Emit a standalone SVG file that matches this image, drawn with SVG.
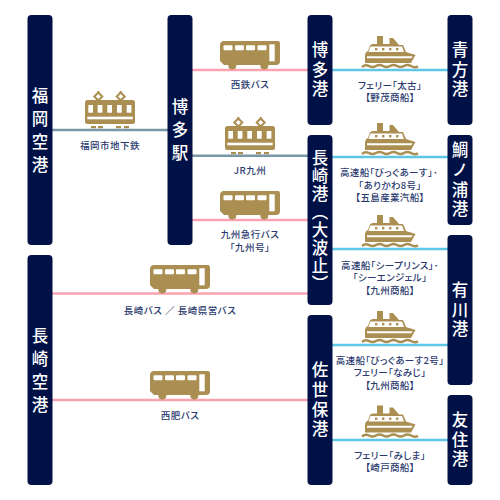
<svg xmlns="http://www.w3.org/2000/svg" width="500" height="500" viewBox="0 0 500 500">
<style>
text{font-family:"Noto Sans CJK JP","Noto Sans",sans-serif}
.n{fill:#001147}
.nt{fill:#fff;font-size:16.5px;font-weight:500;writing-mode:vertical-rl;text-orientation:upright;text-anchor:middle}
.s1{letter-spacing:6.500px}.s2{letter-spacing:3.200px}.s3{letter-spacing:1.500px}
.l{fill:#2a3a6e;font-size:9.500px;font-weight:500;text-anchor:middle;font-feature-settings:"palt";letter-spacing:.35px}
.w{letter-spacing:.5px}
.pink{stroke:#f9a3b1;stroke-width:2.500}.blue{stroke:#5fc6e8;stroke-width:2.500}.slate{stroke:#7898a8;stroke-width:2.500}
.g{fill:#ab8f52}.wh{fill:#fff}
</style>
<defs>
<g id="bus">
<path class="g" d="M3,0H58Q60,0 60,3V20Q60,24 56,24H4L0,20V4Q0,1 3,0Z"/>
<circle class="g" cx="12.3" cy="24.5" r="4"/><circle class="g" cx="44.3" cy="24.5" r="4"/>
<g class="wh"><rect x="3.500" y="4.300" width="9" height="5" rx="1"/><rect x="15" y="4.300" width="9" height="5" rx="1"/><rect x="26" y="4.300" width="9" height="5" rx="1"/><rect x="37.500" y="4.300" width="9" height="5" rx="1"/><rect x="49.300" y="3.300" width="5.400" height="17"/></g>
</g>
<g id="train">
<rect class="g" x="0" y="9" width="50" height="24" rx="2.500"/>
<g fill="none" stroke="#ab8f52" stroke-width="2"><path d="M13.3,1.5L17.3,5.5L13.3,9.5L9.3,5.5Z"/><path d="M35.7,1.5L39.7,5.5L35.7,9.5L31.7,5.5Z"/></g>
<path class="g" d="M12.3,0h2v2h-2zM34.7,0h2v2h-2z"/>
<g class="wh"><rect x="3.300" y="14" width="4.700" height="7.700"/><rect x="12.700" y="14" width="4.700" height="7.700"/><rect x="22.300" y="14" width="4.700" height="7.700"/><rect x="32" y="14" width="4.700" height="7.700"/><rect x="41.700" y="14" width="4.700" height="7.700"/><rect x="2.300" y="25.700" width="45.400" height="2.600"/></g>
<path class="g" d="M6,35h5v2.300H6zM13,35h5v2.300H13zM31,35h5v2.300H31zM39,35h5v2.300H39z"/>
</g>
<g id="ship">
<path class="g" d="M15,0H21V8H27.5V2H31L37,9H41L44,16L53.500,19L49,27H3V20Q3,16 6,15L8,9.5Q9,8 11,8H15Z"/>
<path class="wh" d="M8.5,10.5H40L42,16H6.5Z"/>
<g class="g"><rect x="13" y="12" width="2.400" height="2.400"/><rect x="20" y="12" width="2.400" height="2.400"/><rect x="27" y="12" width="2.400" height="2.400"/><rect x="34" y="12" width="2.400" height="2.400"/></g>
<path class="wh" d="M5,20.3H50.500L49.500,22.3H5Z"/>
<path fill="none" stroke="#ab8f52" stroke-width="2.500" d="M0,31Q3.5,28 7,30Q10.5,32 14,30Q17.5,28 21,30Q24.5,32 28,30Q31.5,28 35,30Q38.5,32 42,30Q45.5,28 49,30Q52.5,32 56,30.5"/>
</g>
</defs>
<g id="connectors" fill="none">
<path class="slate" d="M52,130H168"/>
<path class="pink" d="M192,70H308"/>
<path class="slate" d="M192,155.700H308"/>
<path class="pink" d="M192,220H308"/>
<path class="pink" d="M52,293.500H308"/>
<path class="pink" d="M52,400H308"/>
<path class="blue" d="M332,70H448"/>
<path class="blue" d="M332,157H448"/>
<path class="blue" d="M332,249H448"/>
<path class="blue" d="M332,345H448"/>
<path class="blue" d="M332,440H448"/>
</g>
<g id="icons">
<use href="#train" x="85" y="91"/><use href="#train" x="225" y="117"/>
<use href="#bus" x="220" y="41"/><use href="#bus" x="220" y="191"/><use href="#bus" x="150" y="265"/><use href="#bus" x="150" y="371"/>
<use href="#ship" x="362" y="36"/><use href="#ship" x="362" y="123"/><use href="#ship" x="362" y="215"/><use href="#ship" x="362" y="311"/><use href="#ship" x="362" y="405.500"/>
</g>
<g id="fukuoka-airport"><rect class="n" x="27.500" y="15" width="25" height="230" rx="4"/><text class="nt s1" x="40" y="133">福岡空港</text></g>
<g id="hakata-station"><rect class="n" x="167.500" y="15" width="25" height="230" rx="4"/><text class="nt s1" x="180" y="133">博多駅</text></g>
<g id="hakata-port"><rect class="n" x="307.500" y="15" width="25" height="110" rx="4"/><text class="nt s2" x="320" y="71">博多港</text></g>
<g id="aokata-port"><rect class="n" x="447.500" y="15" width="25" height="110" rx="4"/><text class="nt s2" x="460" y="71">青方港</text></g>
<g id="nagasaki-port"><rect class="n" x="307.500" y="135" width="25" height="170" rx="4"/><text class="nt s3" x="320" y="221">長崎港（大波止）</text></g>
<g id="tainoura-port"><rect class="n" x="447.500" y="135" width="25" height="90" rx="4"/><text class="nt s2" x="460" y="181">鯛ノ浦港</text></g>
<g id="arikawa-port"><rect class="n" x="447.500" y="235" width="25" height="150" rx="4"/><text class="nt s2" x="460" y="311">有川港</text></g>
<g id="tomozumi-port"><rect class="n" x="447.500" y="395" width="25" height="90" rx="4"/><text class="nt s2" x="460" y="441">友住港</text></g>
<g id="sasebo-port"><rect class="n" x="307.500" y="315" width="25" height="170" rx="4"/><text class="nt s2" x="320" y="401">佐世保港</text></g>
<g id="nagasaki-airport"><rect class="n" x="27.500" y="255" width="25" height="230" rx="4"/><text class="nt s1" x="40" y="373">長崎空港</text></g>
<g id="labels">
<text class="l w" x="110" y="148.500">福岡市地下鉄</text>
<text class="l w" x="250" y="88.300">西鉄バス</text>
<text class="l w" x="250" y="173.500">JR九州</text>
<text class="l w" x="250" y="238">九州急行バス</text>
<text class="l w" x="250" y="250.500">「九州号」</text>
<text class="l w" x="180" y="313.500">長崎バス ／ 長崎県営バス</text>
<text class="l w" x="180" y="418.500">西肥バス</text>
<text class="l" x="390" y="88.500">フェリー「太古」</text>
<text class="l" x="390" y="101">【野茂商船】</text>
<text class="l" x="389" y="176">高速船「びっぐあーす」･</text>
<text class="l" x="390" y="188.500">「ありかわ8号」</text>
<text class="l" x="390" y="201">【五島産業汽船】</text>
<text class="l" x="390" y="268.500">高速船「シープリンス」･</text>
<text class="l" x="390" y="281">「シーエンジェル」</text>
<text class="l" x="390" y="293.500">【九州商船】</text>
<text class="l" x="390" y="363.500">高速船「びっぐあーす2号」</text>
<text class="l" x="390" y="376">フェリー「なみじ」</text>
<text class="l" x="390" y="388.500">【九州商船】</text>
<text class="l" x="390" y="458.500">フェリー「みしま」</text>
<text class="l" x="390" y="471">【崎戸商船】</text>
</g>
</svg>
